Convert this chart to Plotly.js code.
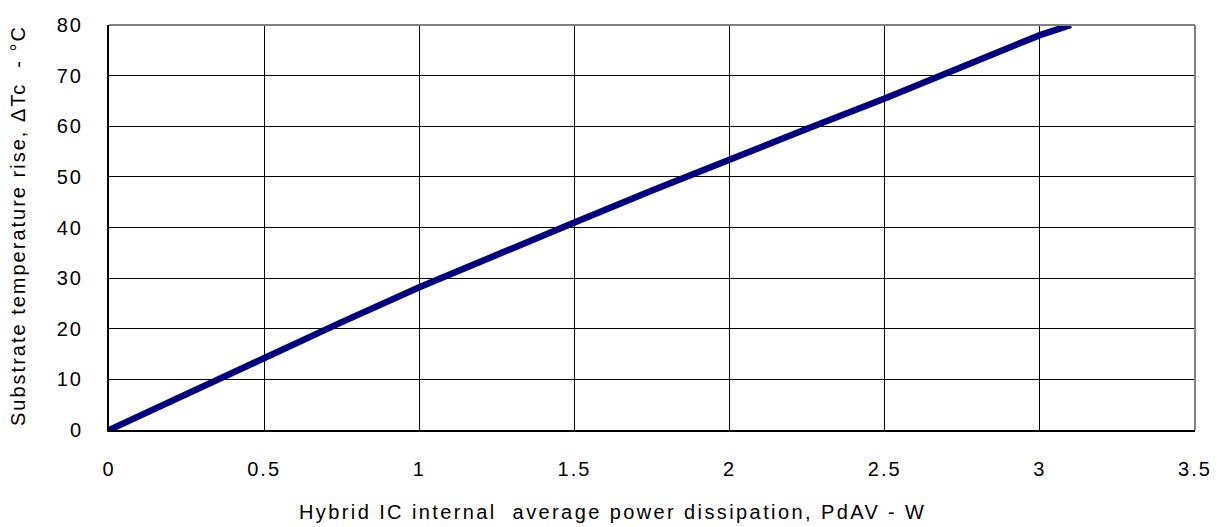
<!DOCTYPE html>
<html>
<head>
<meta charset="utf-8">
<script src="https://cdn.plot.ly/plotly-3.0.1.min.js"></script>
<style>
html,body{margin:0;padding:0;background:#fff}
#chart{width:1223px;height:527px}
#chart .xtick text,#chart .ytick text{letter-spacing:2px}
</style>
</head>
<body>
<div id="chart"></div>
<script>
const powerW = [0, 0.25, 0.5, 0.75, 1, 1.25, 1.5, 1.75, 2, 2.25, 2.5, 2.75, 3, 3.1];
const tempRise = [0, 7.2, 14.3, 21.3, 28.2, 34.7, 41, 47.3, 53.5, 59.5, 65.5, 71.8, 78, 80];
const xTicks = [0, 0.5, 1, 1.5, 2, 2.5, 3, 3.5];
const yTicks = [0, 10, 20, 30, 40, 50, 60, 70, 80];
const xTitle = 'Hybrid IC internal  average power dissipation, PdAV - W';
const yTitle = 'Substrate temperature rise, \u0394Tc  - \u00B0C';

const font = {family: 'Liberation Sans, Arial, sans-serif', size: 20, color: '#000'};

Plotly.newPlot('chart', [{
  x: powerW, y: tempRise, type: 'scatter', mode: 'lines',
  line: {color: '#000080', width: 6.5}, hoverinfo: 'skip'
}], {
  width: 1223, height: 527,
  margin: {l: 109, r: 28, t: 25, b: 97, pad: 0},
  paper_bgcolor: '#fff', plot_bgcolor: '#fff',
  showlegend: false,
  font: font,
  xaxis: {
    range: [0, 3.5], tickvals: xTicks, ticktext: xTicks.map(String),
    showgrid: true, gridcolor: '#000', gridwidth: 1,
    showline: true, linecolor: '#000', linewidth: 2,
    zeroline: false, ticks: '', ticklabelstandoff: 20,
    tickfont: font
  },
  yaxis: {
    range: [0, 80], tickvals: yTicks, ticktext: yTicks.map(String),
    showgrid: true, gridcolor: '#000', gridwidth: 1,
    showline: true, linecolor: '#000', linewidth: 2,
    zeroline: false, ticks: '', ticklabelstandoff: 20,
    tickfont: font
  },
  annotations: [
    {text: '<span style="letter-spacing:2.4px">' + xTitle + '</span>', showarrow: false,
     xref: 'paper', yref: 'paper', x: 0.4632, y: -0.2025, xanchor: 'center', yanchor: 'middle', font: font},
    {text: '<span style="letter-spacing:2px">' + yTitle + '</span>', showarrow: false, textangle: -90,
     xref: 'paper', yref: 'paper', x: -0.0833, y: 0.505, xanchor: 'center', yanchor: 'middle', font: font}
  ],
  shapes: [
    {type: 'line', xref: 'paper', yref: 'paper', x0: 0, x1: 1, y0: 1, y1: 1, line: {color: '#808080', width: 2}},
    {type: 'line', xref: 'paper', yref: 'paper', x0: 1, x1: 1, y0: 0, y1: 1, line: {color: '#808080', width: 2}}
  ]
}, {displayModeBar: false, staticPlot: true});
</script>
</body>
</html>
